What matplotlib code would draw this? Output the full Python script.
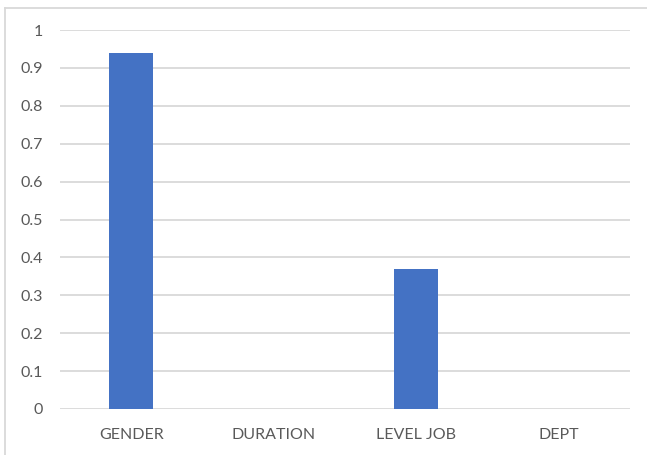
import matplotlib
matplotlib.use('Agg')
import matplotlib.pyplot as plt
from matplotlib.lines import Line2D
import numpy as np

categories = ['GENDER', 'DURATION', 'LEVEL JOB', 'DEPT']
values = [0.94, 0, 0.37, 0]
yticks = [0, 0.1, 0.2, 0.3, 0.4, 0.5, 0.6, 0.7, 0.8, 0.9, 1]
ytick_labels = ['0', '0.1', '0.2', '0.3', '0.4', '0.5', '0.6', '0.7', '0.8', '0.9', '1']

plt.rcParams['font.family'] = ['Lato', 'DejaVu Sans']

fig = plt.figure(figsize=(6.47, 4.55), dpi=100)
ax = fig.add_axes([60 / 647, 46 / 455, 570 / 647, 379 / 455])

x = np.arange(len(categories))
ax.bar(x, values, width=0.31, color='#4472C4', zorder=3)

ax.set_xlim(-0.5, len(categories) - 0.5)
ax.set_ylim(0, 1)
ax.set_yticks(yticks)
ax.set_yticklabels(ytick_labels)
ax.set_xticks(x)
ax.set_xticklabels(categories)

# light horizontal gridlines, no axis spines
ax.grid(axis='y', color='#D9D9D9', linewidth=1.3, zorder=0)
for s in ax.spines.values():
    s.set_visible(False)
ax.tick_params(axis='both', length=0, labelsize=11.5, labelcolor='#595959')
ax.tick_params(axis='y', pad=12)
ax.tick_params(axis='x', pad=14)

# outer frame on top and left
fig.add_artist(Line2D([5 / 647, 1], [1 - 8 / 455, 1 - 8 / 455], color='#D9D9D9', linewidth=1.3))
fig.add_artist(Line2D([5 / 647, 5 / 647], [0, 1 - 8 / 455], color='#D9D9D9', linewidth=1.3))

fig.savefig('out.png', dpi=100)
